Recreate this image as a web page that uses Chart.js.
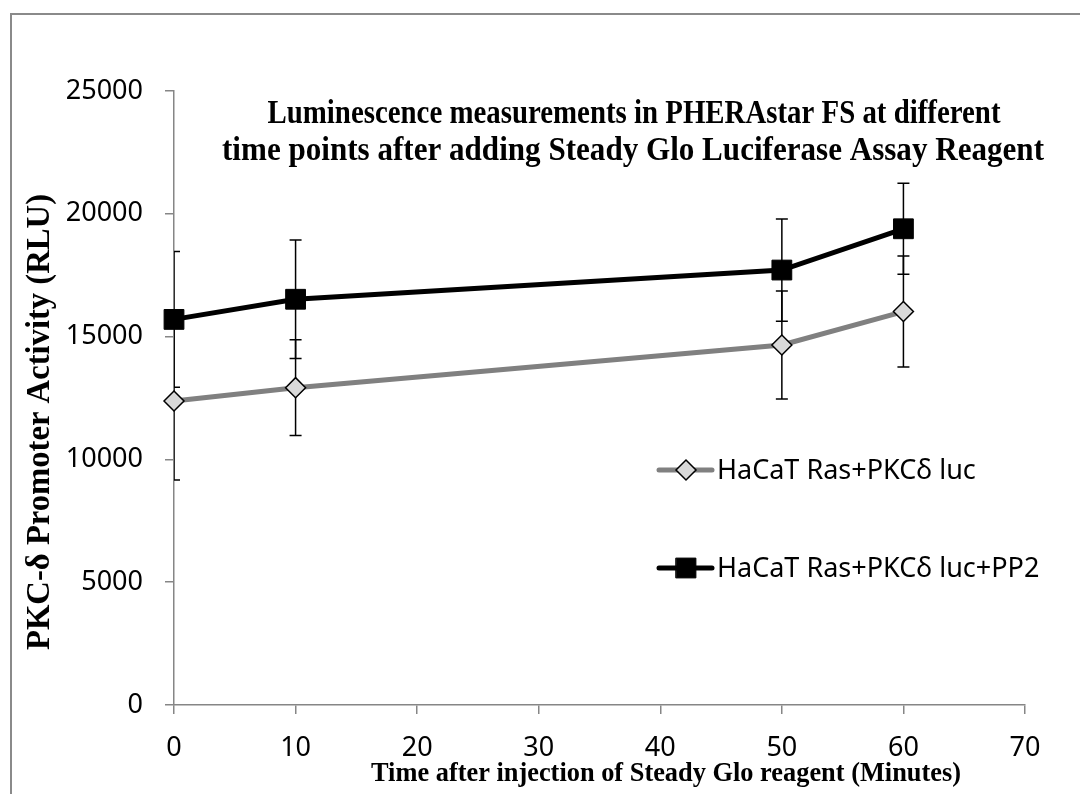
<!DOCTYPE html>
<html>
<head>
<meta charset="utf-8">
<script src="https://cdn.jsdelivr.net/npm/chart.js@4.4.1/dist/chart.umd.min.js"></script>
<style>
    html, body { margin: 0; padding: 0; background: #fff; }
</style>
</head>
<body>
<canvas id="graficoLuc" width="1080" height="794"></canvas>
<script>
// valores
const minutes = [0, 10, 50, 60];
const rasLuc = [12380, 12920, 14660, 16020];
const rasLucErr = [3220, 1950, 2200, 2260];
const rasLucPP2 = [15700, 16520, 17710, 19390];
const rasLucPP2Err = [2760, 2410, 2080, 1850];
const seriesNames = ['HaCaT Ras+PKCδ luc', 'HaCaT Ras+PKCδ luc+PP2'];
const yTicks = [0, 5000, 10000, 15000, 20000, 25000];
const xTicks = [0, 10, 20, 30, 40, 50, 60, 70];
const titleLines = [
    'Luminescence measurements in PHERAstar FS at different',
    'time points after adding Steady Glo Luciferase Assay Reagent'
];
const yTitle = 'PKC-δ Promoter Activity (RLU)';
const xTitle = 'Time after injection of Steady Glo reagent (Minutes)';

const axisGray = '#868686';
const tickFont = { family: '"Noto Sans"', size: 27 };

function toPoints(xs, ys) {
    return xs.map((x, i) => ({ x: x, y: ys[i] }));
}

// barras de erro desenhadas antes das linhas
const errorBars = {
    id: 'errorBars',
    beforeDatasetsDraw(chart) {
        const ctx = chart.ctx;
        const xs = chart.scales.x, ys = chart.scales.y;
        const a = chart.chartArea;
        ctx.save();
        ctx.beginPath();
        ctx.rect(a.left, a.top, a.right - a.left, a.bottom - a.top);
        ctx.clip();
        ctx.strokeStyle = '#000';
        ctx.lineWidth = 1.5;
        [[rasLuc, rasLucErr], [rasLucPP2, rasLucPP2Err]].forEach(([vals, errs]) => {
            vals.forEach((v, i) => {
                const px = xs.getPixelForValue(minutes[i]);
                const top = ys.getPixelForValue(v + errs[i]);
                const bot = ys.getPixelForValue(v - errs[i]);
                ctx.beginPath();
                ctx.moveTo(px, top); ctx.lineTo(px, bot);
                ctx.moveTo(px - 6, top); ctx.lineTo(px + 6, top);
                ctx.moveTo(px - 6, bot); ctx.lineTo(px + 6, bot);
                ctx.stroke();
            });
        });
        ctx.restore();
    }
};

// moldura, títulos e legenda
const extras = {
    id: 'extras',
    afterDraw(chart) {
        const ctx = chart.ctx;
        ctx.save();
        ctx.strokeStyle = '#8a8a8a';
        ctx.lineWidth = 2;
        ctx.strokeRect(11, 14, 1200, 1000);

        ctx.fillStyle = '#000';
        ctx.textAlign = 'center';
        ctx.textBaseline = 'alphabetic';
        ctx.font = 'bold 34px "Liberation Serif"';
        ctx.fillText(titleLines[0], 634, 123, 733);
        ctx.fillText(titleLines[1], 633, 160, 822);

        ctx.font = 'bold 27px "Liberation Serif"';
        ctx.fillText(xTitle, 666, 781, 590);

        ctx.save();
        ctx.translate(49, 422);
        ctx.rotate(-Math.PI / 2);
        ctx.font = 'bold 33px "Liberation Serif"';
        ctx.fillText(yTitle, 0, 0, 456);
        ctx.restore();

        // legenda
        const rows = [470, 568];
        chart.data.datasets.forEach((ds, i) => {
            const y = rows[i];
            ctx.strokeStyle = ds.borderColor;
            ctx.lineWidth = ds.borderWidth;
            ctx.lineCap = 'round';
            ctx.beginPath();
            ctx.moveTo(659, y); ctx.lineTo(712, y);
            ctx.stroke();
            ctx.fillStyle = ds.pointBackgroundColor;
            ctx.strokeStyle = ds.pointBorderColor;
            ctx.lineWidth = ds.pointBorderWidth;
            Chart.helpers.drawPoint(ctx, {
                pointStyle: ds.pointStyle, radius: ds.pointRadius, rotation: 0,
                borderWidth: ds.pointBorderWidth
            }, 686, y);
            ctx.fillStyle = '#000';
            ctx.textAlign = 'left';
            ctx.textBaseline = 'middle';
            ctx.font = '27px "Noto Sans"';
            ctx.fillText(seriesNames[i], 717, y + 1);
        });
        ctx.restore();
    }
};

new Chart(document.getElementById('graficoLuc'), {
    type: 'scatter',
    data: {
        datasets: [
            {
                label: seriesNames[0],
                data: toPoints(minutes, rasLuc),
                showLine: true,
                clip: false,
                borderColor: '#808080',
                borderWidth: 5,
                pointStyle: 'rectRot',
                pointRadius: 10,
                pointHoverRadius: 10,
                pointBackgroundColor: '#d9d9d9',
                pointBorderColor: '#000',
                pointBorderWidth: 1.5,
                order: 1
            },
            {
                label: seriesNames[1],
                data: toPoints(minutes, rasLucPP2),
                showLine: true,
                clip: false,
                borderColor: '#000',
                borderWidth: 5,
                pointStyle: 'rect',
                pointRadius: 14,
                pointHoverRadius: 14,
                pointBackgroundColor: '#000',
                pointBorderColor: '#000',
                pointBorderWidth: 1,
                order: 0
            }
        ]
    },
    options: {
        responsive: false,
        animation: false,
        devicePixelRatio: 1,
        layout: { padding: { top: 91, right: 55, left: 0, bottom: 0 } },
        plugins: {
            legend: { display: false },
            title: { display: false },
            tooltip: { enabled: false }
        },
        scales: {
            x: {
                type: 'linear',
                min: 0,
                max: 70,
                afterBuildTicks: s => { s.ticks = xTicks.map(v => ({ value: v })); },
                afterFit: s => { s.height = 89; },
                border: { color: axisGray, width: 1.5 },
                grid: { drawOnChartArea: false, tickLength: 9, color: axisGray, lineWidth: 1.5 },
                ticks: { font: tickFont, color: '#000', padding: 18, maxRotation: 0, callback: v => String(v) }
            },
            y: {
                min: 0,
                max: 25000,
                afterBuildTicks: s => { s.ticks = yTicks.map(v => ({ value: v })); },
                afterFit: s => { s.width = 174; },
                border: { color: axisGray, width: 1.5 },
                grid: { drawOnChartArea: false, tickLength: 9, color: axisGray, lineWidth: 1.5 },
                ticks: { font: tickFont, color: '#000', padding: 22, callback: v => String(v) }
            }
        }
    },
    plugins: [errorBars, extras]
});
</script>
</body>
</html>
